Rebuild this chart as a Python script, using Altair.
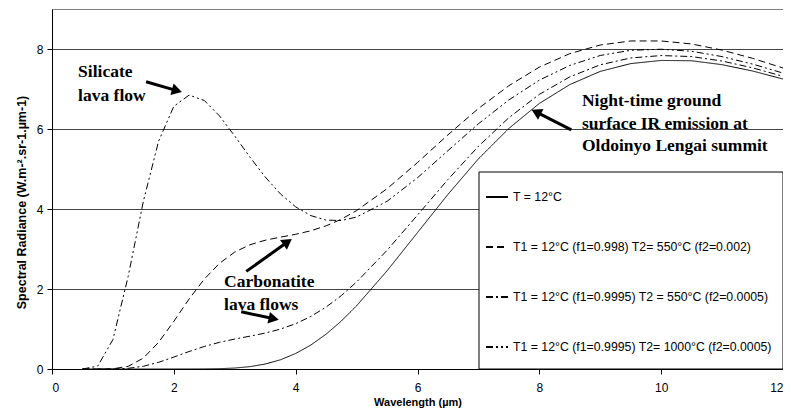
import math
import altair as alt
import pandas as pd

# ---------------- data ----------------
wavelength = [0.5, 0.75, 1.0, 1.25, 1.5, 1.75, 2.0, 2.25, 2.5, 2.75, 3.0, 3.25, 3.5, 3.75,
              4.0, 4.25, 4.5, 4.75, 5.0, 5.5, 6.0, 6.5, 7.0, 7.5, 8.0, 8.5, 9.0, 9.5,
              10.0, 10.5, 11.0, 11.5, 12.0]

t12 = [0, 0, 0, 0, 0, 0, 0.00004, 0.0004, 0.002, 0.008, 0.024, 0.059, 0.124, 0.230,
       0.388, 0.600, 0.871, 1.199, 1.580, 2.454, 3.410, 4.366, 5.253, 6.015, 6.639, 7.110,
       7.440, 7.635, 7.714, 7.706, 7.608, 7.450, 7.249]

t550_002 = [0, 0.0001, 0.006, 0.066, 0.273, 0.667, 1.192, 1.749, 2.247, 2.642, 2.924, 3.106,
            3.219, 3.296, 3.368, 3.456, 3.580, 3.745, 3.960, 4.507, 5.162, 5.854, 6.513, 7.083,
            7.547, 7.884, 8.100, 8.201, 8.201, 8.126, 7.972, 7.767, 7.525]

t550_0005 = [0, 0, 0.0015, 0.017, 0.068, 0.167, 0.298, 0.437, 0.563, 0.667, 0.749, 0.821,
             0.898, 0.997, 1.133, 1.314, 1.549, 1.835, 2.175, 2.967, 3.848, 4.738, 5.568, 6.282,
             6.866, 7.303, 7.605, 7.776, 7.836, 7.811, 7.699, 7.529, 7.318]

t1000_0005 = [0, 0.072, 0.736, 2.312, 4.194, 5.697, 6.567, 6.847, 6.713, 6.327, 5.824, 5.296,
              4.800, 4.378, 4.053, 3.834, 3.722, 3.712, 3.799, 4.192, 4.781, 5.459, 6.130, 6.727,
              7.221, 7.589, 7.838, 7.968, 7.994, 7.943, 7.810, 7.623, 7.398]

series_names = [
    "T = 12°C",
    "T1 = 12°C (f1=0.998) T2= 550°C (f2=0.002)",
    "T1 = 12°C (f1=0.9995) T2 = 550°C (f2=0.0005)",
    "T1 = 12°C (f1=0.9995) T2= 1000°C (f2=0.0005)",
]
series_values = [t12, t550_002, t550_0005, t1000_0005]
dash_styles = [[1, 0], [7, 4], [7, 3, 2, 3], [7, 3, 2, 3, 2, 3]]

x_ticks = [0, 2, 4, 6, 8, 10, 12]
y_ticks = [0, 2, 4, 6, 8]

# annotation texts (data coordinates)
ann_text = ["Silicate", "lava flow", "Night-time ground", "surface IR emission at",
            "Oldoinyo Lengai summit", "Carbonatite", "lava flows"]
ann_x = [0.428, 0.428, 8.70, 8.70, 8.70, 2.824, 2.824]
ann_y = [7.29, 6.71, 6.575, 6.01, 5.45, 2.04, 1.48]

# arrows: tail -> tip (data coordinates)
arrow_tail_x = [1.545, 8.525, 3.19, 3.106]
arrow_tail_y = [7.18, 5.98, 2.44, 1.43]
arrow_tip_x = [2.13, 7.875, 3.935, 3.72]
arrow_tip_y = [6.925, 6.48, 3.25, 1.23]

# ---------------- layout ----------------
W, H = 731, 360
XMAX, YMAX = 12, 9
PX_X, PX_Y = W / XMAX, H / YMAX

rows = []
for name, vals in zip(series_names, series_values):
    for wl, v in zip(wavelength, vals):
        rows.append({"wavelength": wl, "radiance": v, "series": name})
df = pd.DataFrame(rows)

arrow_rows = []
for tx, ty, hx, hy in zip(arrow_tail_x, arrow_tail_y, arrow_tip_x, arrow_tip_y):
    dxp = (hx - tx) * PX_X
    dyp = -(hy - ty) * PX_Y
    L = math.hypot(dxp, dyp)
    ux, uy = dxp / L, dyp / L
    ang = math.degrees(math.atan2(ux, -uy)) % 360
    arrow_rows.append({
        "x": tx, "y": ty,
        "x2": hx - 7 * ux / PX_X, "y2": hy + 7 * uy / PX_Y,
        "hx": hx - 5 * ux / PX_X, "hy": hy + 5 * uy / PX_Y,
        "angle": ang,
    })
arrows = pd.DataFrame(arrow_rows)
ann = pd.DataFrame({"x": ann_x, "y": ann_y, "text": ann_text})

xscale = alt.Scale(domain=[0, XMAX], nice=False, zero=False)
yscale = alt.Scale(domain=[0, YMAX], nice=False, zero=False)

lines = alt.Chart(df).mark_line(color="black", strokeWidth=1, clip=True).encode(
    x=alt.X("wavelength:Q", scale=xscale,
            axis=alt.Axis(values=x_ticks, format="d", labelFlush=True,
                          title="Wavelength (µm)", grid=False,
                          titleY=33, titleBaseline="middle")),
    y=alt.Y("radiance:Q", scale=yscale,
            axis=alt.Axis(values=y_ticks, format="d",
                          title="Spectral Radiance (W.m-².sr-1.µm-1)",
                          grid=True, gridColor="#444444", gridWidth=1,
                          titleX=-31, titleY=193, titleBaseline="middle", titleFontSize=12.5)),
    strokeDash=alt.StrokeDash(
        "series:N",
        scale=alt.Scale(domain=series_names, range=dash_styles),
        legend=alt.Legend(
            title=None, orient="none", legendX=433, legendY=176, padding=0,
            symbolType="stroke", symbolSize=484, symbolStrokeWidth=2,
            symbolStrokeColor="black", labelFont="Liberation Sans", labelFontSize=12.3,
            labelColor="black", rowPadding=31, labelOffset=4, labelLimit=400,
        ),
    ),
)

legend_box = alt.Chart(pd.DataFrame({"k": [0]})).mark_rect(
    fill="white", stroke="black", strokeWidth=1
).encode(
    x=alt.value(427), x2=alt.value(731), y=alt.value(163), y2=alt.value(360)
)

texts = alt.Chart(ann).mark_text(
    align="left", baseline="alphabetic", font="Liberation Serif", fontWeight="bold",
    fontSize=17.5, color="black"
).encode(x=alt.X("x:Q", scale=xscale), y=alt.Y("y:Q", scale=yscale), text="text:N")

arrow_lines = alt.Chart(arrows).mark_rule(color="black", strokeWidth=3).encode(
    x=alt.X("x:Q", scale=xscale), y=alt.Y("y:Q", scale=yscale), x2="x2:Q", y2="y2:Q"
)
arrow_heads = alt.Chart(arrows).mark_point(
    shape="triangle-up", filled=True, color="black", size=140, opacity=1
).encode(
    x=alt.X("hx:Q", scale=xscale), y=alt.Y("hy:Q", scale=yscale),
    angle=alt.Angle("angle:Q", scale=None)
)

chart = alt.layer(lines, legend_box, texts, arrow_lines, arrow_heads).properties(
    width=W, height=H,
    autosize=alt.AutoSizeParams(type="none"),
    padding={"left": 44, "top": 1, "right": 0, "bottom": 40},
    background="white",
).configure_view(
    stroke="#808080", strokeWidth=1
).configure_axis(
    domainColor="black", tickColor="black", tickSize=5, domainWidth=1,
    labelFont="Liberation Sans", labelFontSize=12, labelColor="black",
    titleFont="Liberation Sans", titleFontSize=11, titleFontWeight="bold", titleColor="black",
).configure_axisX(
    labelPadding=8
).configure_axisY(
    labelPadding=4
)

chart.save("out.html", embed_options={"renderer": "svg", "actions": False})
